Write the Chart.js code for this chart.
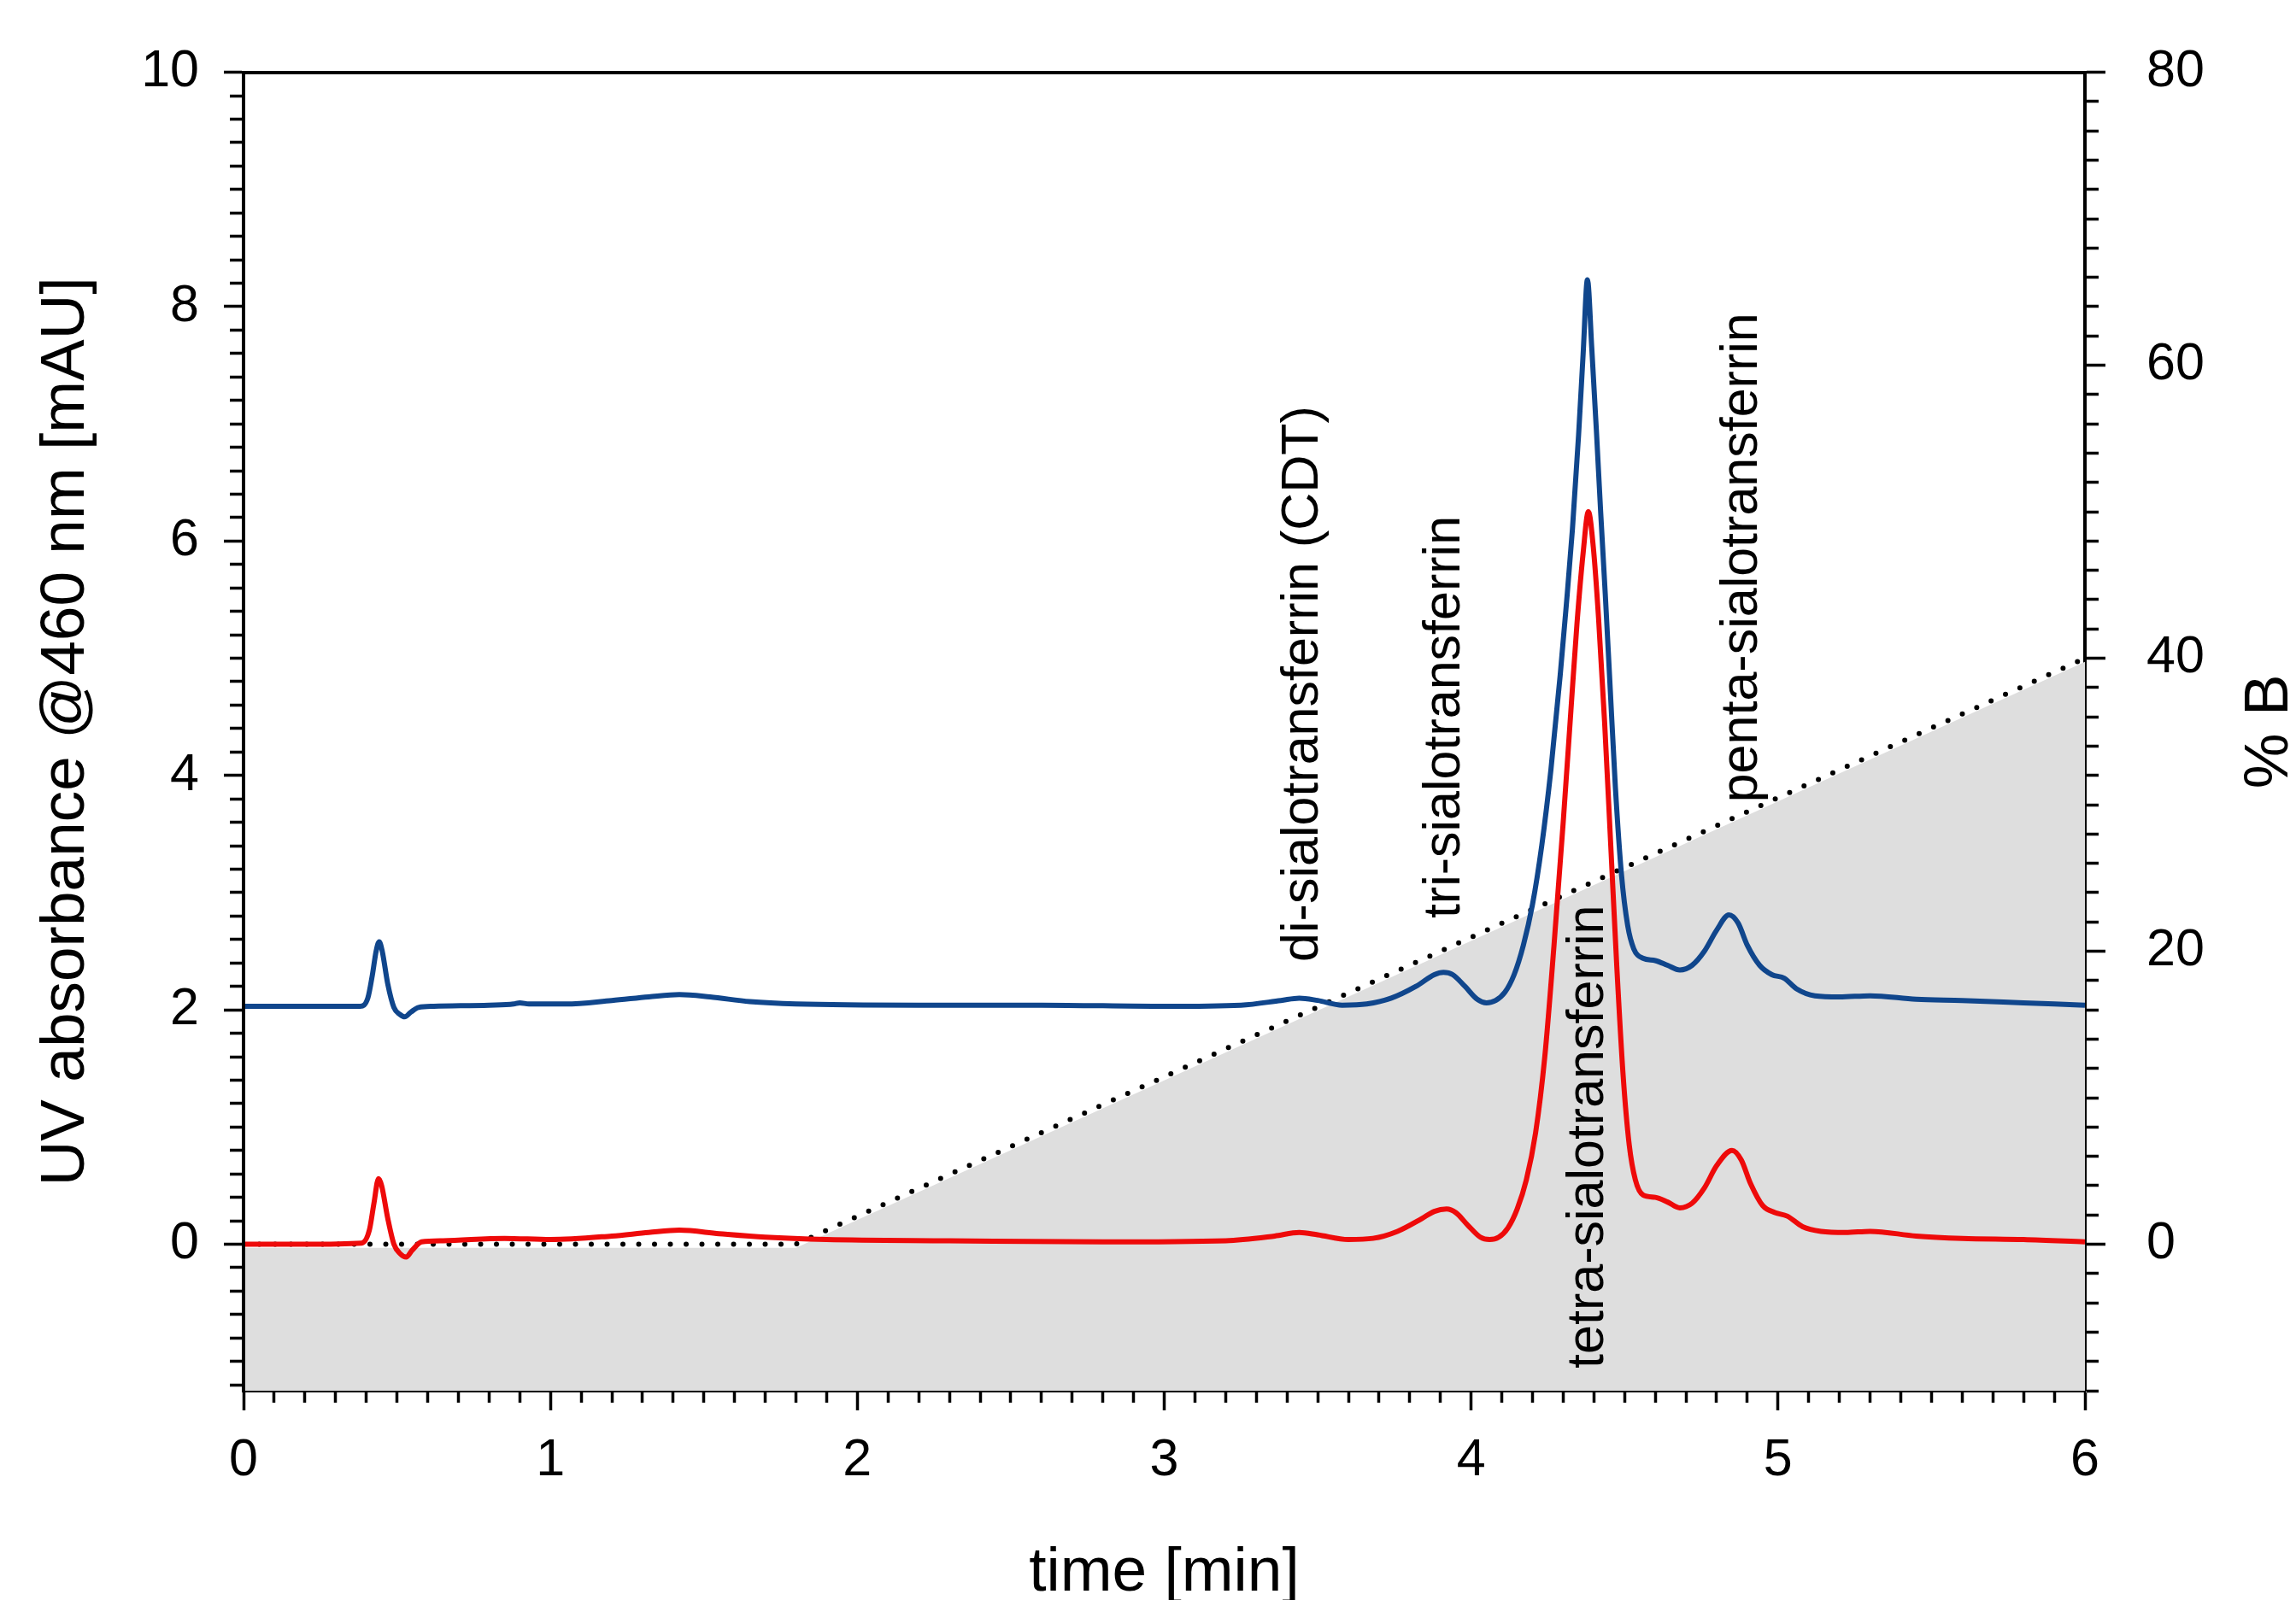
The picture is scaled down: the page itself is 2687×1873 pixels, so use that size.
<!DOCTYPE html>
<html>
<head>
<meta charset="utf-8">
<script src="https://cdn.jsdelivr.net/npm/chart.js@4/dist/chart.umd.min.js"></script>
<style>
html,body{margin:0;padding:0;background:#fff;overflow:hidden}
#c{display:block}
</style>
</head>
<body>
<canvas id="c" width="2687" height="1873" style="width:2687px;height:1873px"></canvas>
<script>
// ---------------- data ----------------
const blueTime = [0.00,0.20,0.38,0.405,0.42,0.432,0.442,0.452,0.47,0.49,0.51,0.525,0.545,0.57,0.62,0.80,0.88,0.90,0.93,1.05,1.20,1.32,1.42,1.52,1.65,1.80,2.20,2.60,3.00,3.25,3.38,3.44,3.50,3.58,3.66,3.74,3.82,3.88,3.91,3.94,3.98,4.02,4.05,4.08,4.11,4.14,4.17,4.20,4.23,4.26,4.29,4.31,4.33,4.35,4.365,4.379,4.393,4.408,4.422,4.437,4.452,4.47,4.49,4.51,4.53,4.56,4.60,4.64,4.68,4.72,4.76,4.80,4.84,4.87,4.90,4.94,4.98,5.02,5.06,5.12,5.20,5.30,5.45,5.60,5.80,6.00];
const blueAbs  = [2.03,2.03,2.03,2.10,2.30,2.50,2.58,2.50,2.22,2.02,1.96,1.94,1.98,2.02,2.03,2.04,2.05,2.06,2.05,2.05,2.08,2.11,2.13,2.11,2.07,2.05,2.04,2.04,2.03,2.04,2.08,2.10,2.08,2.04,2.05,2.10,2.20,2.30,2.32,2.30,2.20,2.09,2.06,2.08,2.15,2.30,2.55,2.90,3.40,4.05,4.85,5.45,6.10,6.90,7.60,8.23,7.65,6.95,6.25,5.55,4.80,3.90,3.15,2.72,2.52,2.44,2.42,2.38,2.34,2.38,2.50,2.68,2.81,2.74,2.55,2.38,2.30,2.27,2.18,2.12,2.11,2.12,2.09,2.08,2.06,2.04];

const redTime = [0.00,0.20,0.385,0.41,0.425,0.44,0.45,0.47,0.49,0.51,0.53,0.55,0.58,0.65,0.85,1.00,1.20,1.32,1.42,1.55,1.70,1.90,2.30,2.80,3.20,3.36,3.44,3.50,3.60,3.68,3.76,3.84,3.88,3.92,3.95,3.99,4.03,4.06,4.09,4.12,4.15,4.18,4.21,4.24,4.27,4.30,4.325,4.345,4.365,4.382,4.398,4.415,4.435,4.455,4.475,4.495,4.515,4.535,4.56,4.60,4.64,4.68,4.72,4.76,4.80,4.85,4.88,4.91,4.95,4.99,5.03,5.08,5.14,5.22,5.30,5.45,5.60,5.80,6.00];
const redAbs  = [0.00,0.00,0.01,0.12,0.35,0.56,0.50,0.22,0.00,-0.08,-0.11,-0.05,0.02,0.03,0.05,0.04,0.07,0.10,0.12,0.09,0.06,0.04,0.03,0.02,0.03,0.07,0.10,0.08,0.04,0.05,0.11,0.22,0.28,0.30,0.27,0.16,0.06,0.04,0.06,0.14,0.30,0.55,0.95,1.60,2.55,3.60,4.55,5.30,5.90,6.25,5.95,5.35,4.45,3.40,2.35,1.45,0.85,0.55,0.42,0.40,0.36,0.31,0.35,0.48,0.67,0.80,0.72,0.52,0.33,0.27,0.24,0.15,0.11,0.10,0.11,0.07,0.05,0.04,0.02];

// gradient programme (% B), dotted line
const gradientTime = [0, 1.8, 6];
const gradientPctB = [0, 0, 40];
// shaded gradient area (% B)
const shadeTime = [0, 1.8, 6];
const shadePctB = [-0.25, -0.25, 39.75];

// axes
const xMajorTicks = [0, 1, 2, 3, 4, 5, 6];
const xTickLabels = ['0', '1', '2', '3', '4', '5', '6'];
const xMinorStep = 0.1;
const yMajorTicks = [0, 2, 4, 6, 8, 10];
const yTickLabels = ['0', '2', '4', '6', '8', '10'];
const yMinorStep = 0.2;
const y2MajorTicks = [0, 20, 40, 60, 80];
const y2TickLabels = ['0', '20', '40', '60', '80'];
const y2MinorStep = 2;

const xTitle = 'time [min]';
const yTitle = 'UV absorbance @460 nm [mAU]';
const y2Title = '% B';

// peak annotations
const peakNames = ['di-sialotransferrin (CDT)', 'tri-sialotransferrin', 'tetra-sialotransferrin', 'penta-sialotransferrin'];
const peakLabelTime = [3.452, 3.915, 4.382, 4.883];
const peakLabelBase = [2.41, 2.78, -1.06, 3.77];

// ---------------- helpers ----------------
const FONT = "'Liberation Sans', Arial, Helvetica, sans-serif";
const toXY = (xs, ys) => xs.map((t, i) => ({ x: t, y: ys[i] }));
function stepTicks(min, max, step) {
  const out = [];
  const k0 = Math.ceil(min / step - 1e-9), k1 = Math.floor(max / step + 1e-9);
  for (let k = k0; k <= k1; k++) out.push({ value: Math.round(k * step * 1e6) / 1e6 });
  return out;
}
const isMajor = (v, majors) => majors.some(m => Math.abs(m - v) < 1e-6);
function labelFor(v, majors, labels) {
  const i = majors.findIndex(m => Math.abs(m - v) < 1e-6);
  return i < 0 ? '' : labels[i];
}
const tickFont = { family: FONT, size: 61 };
const titleFont = { family: FONT, size: 73 };

const textPlugin = {
  id: 'peakText',
  afterDatasetsDraw(chart) {
    const { ctx, scales: { x, y, y2 }, chartArea } = chart;
    ctx.save();
    ctx.fillStyle = '#000';
    ctx.font = `61px ${FONT}`;
    ctx.textAlign = 'left';
    ctx.textBaseline = 'middle';
    peakNames.forEach((name, i) => {
      ctx.save();
      ctx.translate(x.getPixelForValue(peakLabelTime[i]), y.getPixelForValue(peakLabelBase[i]));
      ctx.rotate(-Math.PI / 2);
      ctx.fillText(name, 0, 0);
      ctx.restore();
    });
    // right axis title, reading bottom-to-top
    ctx.font = `73px ${FONT}`;
    ctx.textAlign = 'center';
    ctx.translate(y2.right - 30, (chartArea.top + chartArea.bottom) / 2);
    ctx.rotate(-Math.PI / 2);
    ctx.fillText(y2Title, 0, 0);
    ctx.restore();
  }
};

new Chart(document.getElementById('c'), {
  type: 'line',
  data: {
    datasets: [
      { label: 'red', data: toXY(redTime, redAbs), yAxisID: 'y', borderColor: '#ee0a0a', borderWidth: 6,
        pointRadius: 0, fill: false, cubicInterpolationMode: 'monotone', borderJoinStyle: 'round', order: 0 },
      { label: 'blue', data: toXY(blueTime, blueAbs), yAxisID: 'y', borderColor: '#10468c', borderWidth: 6,
        pointRadius: 0, fill: false, cubicInterpolationMode: 'monotone', borderJoinStyle: 'round', order: 1 },
      { label: 'gradient', data: toXY(gradientTime, gradientPctB), yAxisID: 'y2', borderColor: '#000', borderWidth: 6,
        borderDash: [0, 18.5], borderCapStyle: 'round', pointRadius: 0, fill: false, tension: 0, order: 2 },
      { label: 'shade', data: toXY(shadeTime, shadePctB), yAxisID: 'y2', borderColor: 'rgba(0,0,0,0)', borderWidth: 0,
        backgroundColor: '#dedede', pointRadius: 0, fill: 'start', tension: 0, order: 3 }
    ]
  },
  options: {
    responsive: false,
    animation: false,
    devicePixelRatio: 1,
    layout: { padding: { top: 73, left: 0, right: 0, bottom: 0 } },
    plugins: { legend: { display: false }, tooltip: { enabled: false } },
    scales: {
      x: {
        type: 'linear', position: 'bottom', min: 0, max: 6, bounds: 'data',
        afterBuildTicks: s => { s.ticks = stepTicks(s.min, s.max, xMinorStep); },
        afterFit: s => { s.height = 245; },
        ticks: { autoSkip: false, maxRotation: 0, minRotation: 0, padding: 23, color: '#000', font: tickFont,
          callback: v => labelFor(v, xMajorTicks, xTickLabels) },
        grid: { display: true, drawOnChartArea: false, drawTicks: true, tickLength: 23, tickWidth: 3.5, tickColor: '#000',
          tickBorderDash: c => (c.tick && !isMajor(c.tick.value, xMajorTicks)) ? [12, 200] : [] },
        border: { display: true, color: '#000', width: 4, z: 0 },
        title: { display: true, text: xTitle, color: '#000', font: titleFont, padding: { top: 0, bottom: -13 } }
      },
      xTop: {
        type: 'linear', position: 'top', min: 0, max: 6, display: true,
        afterFit: s => { s.height = 0; },
        ticks: { display: false },
        grid: { display: false, drawOnChartArea: false, drawTicks: false },
        border: { display: true, color: '#000', width: 4, z: 1 }
      },
      y: {
        type: 'linear', position: 'left', min: -1.25, max: 10, bounds: 'data',
        afterBuildTicks: s => { s.ticks = stepTicks(s.min, s.max, yMinorStep); },
        afterFit: s => { s.width = 285; },
        ticks: { autoSkip: false, padding: 29, color: '#000', font: tickFont,
          callback: v => labelFor(v, yMajorTicks, yTickLabels) },
        grid: { display: true, drawOnChartArea: false, drawTicks: true, tickLength: 23, tickWidth: 3.5, tickColor: '#000',
          tickBorderDash: c => (c.tick && !isMajor(c.tick.value, yMajorTicks)) ? [0, 7, 14, 200] : [] },
        border: { display: true, color: '#000', width: 4, z: 1 },
        title: { display: true, text: yTitle, color: '#000', font: titleFont, padding: { top: 34, bottom: 0 } }
      },
      y2: {
        type: 'linear', position: 'right', min: -10, max: 80, bounds: 'data',
        afterBuildTicks: s => { s.ticks = stepTicks(s.min, s.max, y2MinorStep); },
        afterFit: s => { s.width = 247; },
        ticks: { autoSkip: false, padding: 48, color: '#000', font: tickFont,
          callback: v => labelFor(v, y2MajorTicks, y2TickLabels) },
        grid: { display: true, drawOnChartArea: false, drawTicks: true, tickLength: 24, tickWidth: 3.5, tickColor: '#000',
          tickBorderDash: c => (c.tick && !isMajor(c.tick.value, y2MajorTicks)) ? [14, 200] : [] },
        border: { display: true, color: '#000', width: 4, z: 0 },
        title: { display: false }
      }
    }
  },
  plugins: [textPlugin]
});
</script>
</body>
</html>
